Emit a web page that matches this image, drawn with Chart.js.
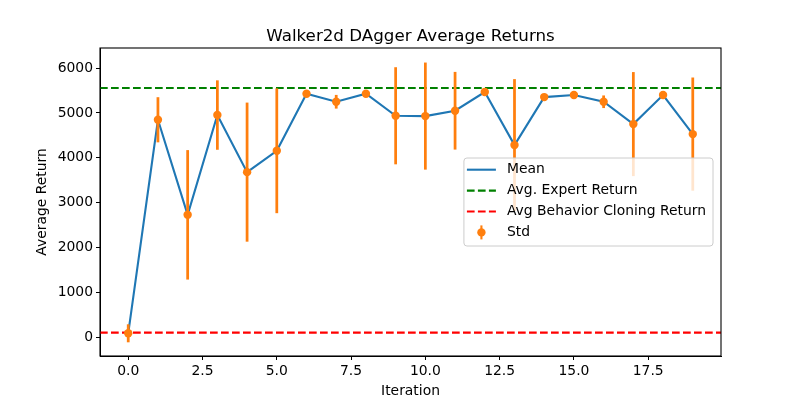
<!DOCTYPE html>
<html lang="en">
<head>
    <meta charset="UTF-8">
    <title>Walker2d DAgger Average Returns</title>
    <script src="https://cdn.jsdelivr.net/npm/chart.js"></script>
    <style>
        body {
            margin: 0;
            background: #fff;
        }
    </style>
</head>
<body>
    <canvas id="returnsChart" width="800" height="400"></canvas>

    <script>
        // values
        const iterations = [0, 1, 2, 3, 4, 5, 6, 7, 8, 9, 10, 11, 12, 13, 14, 15, 16, 17, 18, 19];
        const meanReturns = [97, 4848, 2733, 4953, 3683, 4158, 5427, 5249, 5427, 4937, 4930, 5049, 5465, 4285, 5353, 5398, 5249, 4752, 5398, 4529];
        const stdReturns = [193, 495, 1433, 765, 1540, 1381, 60, 145, 60, 1073, 1184, 857, 80, 1460, 60, 60, 133, 1150, 60, 1252];
        const expertReturn = 5554;
        const bcReturn = 111;
        const xTicks = [0, 2.5, 5, 7.5, 10, 12.5, 15, 17.5];
        const yTicks = [0, 1000, 2000, 3000, 4000, 5000, 6000];
        const xRange = [-0.95, 19.95];
        const yRange = [-408, 6445];

        const FONT = '"DejaVu Sans", sans-serif';
        const BLUE = '#1f77b4';
        const ORANGE = '#ff7f0e';

        const legendItems = [
            { label: 'Mean', kind: 'line', color: BLUE },
            { label: 'Avg. Expert Return', kind: 'dash', color: '#008000' },
            { label: 'Avg Behavior Cloning Return', kind: 'dash', color: '#ff0000' },
            { label: 'Std', kind: 'err', color: ORANGE }
        ];

        // box around the axes + title on the axes centre
        const framePlugin = {
            id: 'frame',
            afterDraw(chart) {
                const { ctx, chartArea: a } = chart;
                ctx.save();
                ctx.strokeStyle = '#000';
                ctx.lineWidth = 1.1;
                ctx.strokeRect(a.left, a.top, a.right - a.left, a.bottom - a.top);
                ctx.fillStyle = '#000';
                ctx.font = '16.7px ' + FONT;
                ctx.textAlign = 'center';
                ctx.textBaseline = 'alphabetic';
                ctx.fillText('Walker2d DAgger Average Returns', (a.left + a.right) / 2, a.top - 7);
                ctx.restore();
            }
        };

        // matplotlib-like legend, center right inside the axes
        const legendPlugin = {
            id: 'mplLegend',
            afterDraw(chart) {
                const { ctx, chartArea: a } = chart;
                ctx.save();
                ctx.font = '13.9px ' + FONT;
                let maxW = 0;
                legendItems.forEach(it => { maxW = Math.max(maxW, ctx.measureText(it.label).width); });
                const w = 43 + maxW + 7;
                const h = 88;
                const x = a.right - 8 - w;
                const y = (a.top + a.bottom) / 2 - h / 2;

                ctx.beginPath();
                ctx.roundRect(x, y, w, h, 3);
                ctx.fillStyle = 'rgba(255,255,255,0.8)';
                ctx.fill();
                ctx.strokeStyle = '#cccccc';
                ctx.lineWidth = 1;
                ctx.stroke();

                legendItems.forEach((it, i) => {
                    const ry = y + 11.7 + i * 20.9;
                    ctx.strokeStyle = it.color;
                    ctx.fillStyle = it.color;
                    ctx.lineWidth = 2.1;
                    if (it.kind === 'line' || it.kind === 'dash') {
                        ctx.setLineDash(it.kind === 'dash' ? [7.7, 3.3] : []);
                        ctx.beginPath();
                        ctx.moveTo(x + 3, ry);
                        ctx.lineTo(x + 32, ry);
                        ctx.stroke();
                        ctx.setLineDash([]);
                    } else {
                        const cx = x + 17.5;
                        ctx.beginPath();
                        ctx.moveTo(cx, ry - 7);
                        ctx.lineTo(cx, ry + 7);
                        ctx.stroke();
                        ctx.beginPath();
                        ctx.arc(cx, ry, 4.2, 0, Math.PI * 2);
                        ctx.fill();
                    }
                    ctx.fillStyle = '#000';
                    ctx.textAlign = 'left';
                    ctx.textBaseline = 'middle';
                    ctx.fillText(it.label, x + 43, ry);
                });
                ctx.restore();
            }
        };

        const ctx = document.getElementById('returnsChart').getContext('2d');
        new Chart(ctx, {
            type: 'line',
            data: {
                datasets: [
                    {
                        label: 'Avg. Expert Return',
                        data: xRange.map(x => ({ x: x, y: expertReturn })),
                        borderColor: '#008000',
                        borderWidth: 2.1,
                        borderDash: [7.7, 3.3],
                        pointRadius: 0,
                        order: 4
                    },
                    {
                        label: 'Avg Behavior Cloning Return',
                        data: xRange.map(x => ({ x: x, y: bcReturn })),
                        borderColor: '#ff0000',
                        borderWidth: 2.1,
                        borderDash: [7.7, 3.3],
                        pointRadius: 0,
                        order: 3
                    },
                    {
                        label: 'Mean',
                        data: iterations.map((x, i) => ({ x: x, y: meanReturns[i] })),
                        borderColor: BLUE,
                        borderWidth: 2.1,
                        pointRadius: 0,
                        tension: 0,
                        order: 2
                    },
                    {
                        type: 'bar',
                        label: 'Std',
                        data: iterations.map((x, i) => ({ x: x, y: [meanReturns[i] - stdReturns[i], meanReturns[i] + stdReturns[i]] })),
                        backgroundColor: ORANGE,
                        borderWidth: 0,
                        barThickness: 2.1,
                        order: 1
                    },
                    {
                        label: 'Std markers',
                        data: iterations.map((x, i) => ({ x: x, y: meanReturns[i] })),
                        showLine: false,
                        pointRadius: 4.2,
                        pointBackgroundColor: ORANGE,
                        pointBorderWidth: 0,
                        order: 0
                    }
                ]
            },
            options: {
                responsive: false,
                animation: false,
                devicePixelRatio: 1,
                layout: {
                    padding: { top: 48, right: 79, left: 0, bottom: 0 }
                },
                plugins: {
                    legend: { display: false },
                    tooltip: { enabled: false }
                },
                scales: {
                    x: {
                        type: 'linear',
                        min: xRange[0],
                        max: xRange[1],
                        offset: false,
                        afterBuildTicks: scale => { scale.ticks = xTicks.map(v => ({ value: v })); },
                        afterFit: scale => { scale.height = 44; },
                        grid: { offset: false, drawOnChartArea: false, color: '#000', tickLength: 4, tickWidth: 1 },
                        border: { color: '#000', width: 1 },
                        ticks: {
                            color: '#000',
                            padding: 3,
                            maxRotation: 0,
                            font: { family: FONT, size: 13.9 },
                            callback: v => v.toFixed(1)
                        },
                        title: {
                            display: true,
                            text: 'Iteration',
                            color: '#000',
                            font: { family: FONT, size: 13.9 },
                            padding: { top: 0, bottom: 0 }
                        }
                    },
                    y: {
                        min: yRange[0],
                        max: yRange[1],
                        afterBuildTicks: scale => { scale.ticks = yTicks.map(v => ({ value: v })); },
                        afterFit: scale => { scale.width = 100; },
                        grid: { drawOnChartArea: false, color: '#000', tickLength: 4, tickWidth: 1 },
                        border: { color: '#000', width: 1 },
                        ticks: {
                            color: '#000',
                            padding: 3,
                            font: { family: FONT, size: 13.9 },
                            callback: v => String(v)
                        },
                        title: {
                            display: true,
                            text: 'Average Return',
                            color: '#000',
                            font: { family: FONT, size: 13.9 },
                            padding: { top: 34, bottom: 0 }
                        }
                    }
                }
            },
            plugins: [framePlugin, legendPlugin]
        });
    </script>
</body>
</html>
